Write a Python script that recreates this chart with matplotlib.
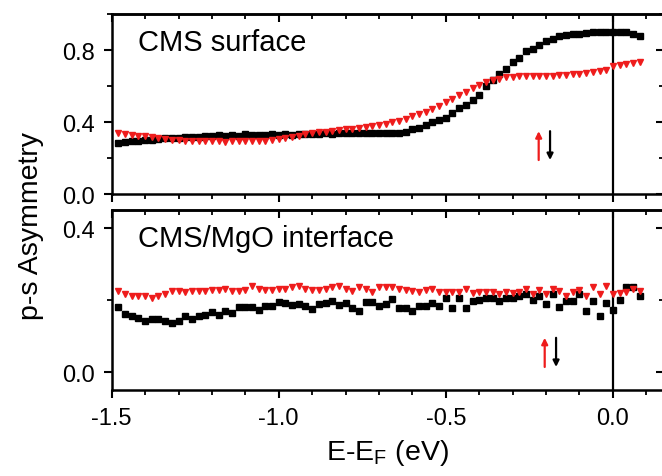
import numpy as np
import matplotlib
matplotlib.use("Agg")
import matplotlib.pyplot as plt
from matplotlib.ticker import MultipleLocator

plt.rcParams['font.family'] = ['Liberation Sans', 'DejaVu Sans']
plt.rcParams['mathtext.fontset'] = 'custom'
plt.rcParams['mathtext.rm'] = 'Liberation Sans'

# Energy grid (eV), shared by all series
energy = np.round(np.arange(-1.48, 0.0801, 0.02), 2)

# CMS surface
surf_black = [0.283, 0.289, 0.294, 0.296, 0.300, 0.303, 0.307, 0.310, 0.311, 0.312,
              0.320, 0.316, 0.320, 0.324, 0.323, 0.328, 0.326, 0.328, 0.326, 0.333,
              0.328, 0.330, 0.328, 0.333, 0.330, 0.333, 0.328, 0.333, 0.335, 0.337,
              0.335, 0.340, 0.337, 0.338, 0.338, 0.338, 0.338, 0.340, 0.340, 0.340,
              0.339, 0.339, 0.340, 0.345, 0.361, 0.367, 0.385, 0.403, 0.413, 0.422,
              0.450, 0.478, 0.496, 0.524, 0.552, 0.598, 0.635, 0.668, 0.694, 0.731,
              0.755, 0.792, 0.805, 0.829, 0.852, 0.863, 0.876, 0.883, 0.889, 0.891,
              0.894, 0.898, 0.902, 0.898, 0.898, 0.900, 0.900, 0.891, 0.876]
surf_red = [0.342, 0.333, 0.327, 0.324, 0.324, 0.320, 0.313, 0.305, 0.302, 0.302,
            0.298, 0.296, 0.296, 0.294, 0.294, 0.293, 0.292, 0.293, 0.293, 0.294,
            0.294, 0.296, 0.298, 0.302, 0.305, 0.310, 0.318, 0.325, 0.333, 0.340,
            0.345, 0.348, 0.352, 0.356, 0.360, 0.364, 0.368, 0.372, 0.378, 0.385,
            0.392, 0.400, 0.409, 0.420, 0.432, 0.444, 0.459, 0.475, 0.490, 0.512,
            0.530, 0.550, 0.565, 0.588, 0.605, 0.622, 0.633, 0.640, 0.648, 0.652,
            0.654, 0.655, 0.654, 0.656, 0.655, 0.657, 0.660, 0.662, 0.665, 0.668,
            0.672, 0.676, 0.684, 0.690, 0.712, 0.718, 0.720, 0.728, 0.732]

# CMS/MgO interface
intf_black = [0.180, 0.161, 0.156, 0.150, 0.141, 0.147, 0.147, 0.143, 0.135, 0.141,
              0.155, 0.147, 0.156, 0.158, 0.166, 0.158, 0.169, 0.163, 0.180, 0.180,
              0.180, 0.173, 0.184, 0.184, 0.194, 0.192, 0.186, 0.189, 0.184, 0.175,
              0.190, 0.192, 0.196, 0.186, 0.191, 0.178, 0.170, 0.194, 0.194, 0.183,
              0.188, 0.203, 0.177, 0.177, 0.170, 0.184, 0.184, 0.191, 0.183, 0.206,
              0.178, 0.206, 0.178, 0.198, 0.199, 0.205, 0.207, 0.198, 0.207, 0.206,
              0.212, 0.217, 0.199, 0.212, 0.189, 0.217, 0.180, 0.198, 0.198, 0.217,
              0.170, 0.198, 0.156, 0.192, 0.173, 0.201, 0.235, 0.235, 0.210]
intf_red = [0.226, 0.217, 0.212, 0.210, 0.212, 0.207, 0.212, 0.217, 0.226, 0.226,
            0.223, 0.226, 0.226, 0.226, 0.229, 0.229, 0.231, 0.226, 0.226, 0.229,
            0.238, 0.231, 0.229, 0.229, 0.232, 0.232, 0.235, 0.238, 0.231, 0.229,
            0.229, 0.232, 0.235, 0.239, 0.231, 0.226, 0.235, 0.231, 0.223, 0.235,
            0.235, 0.235, 0.231, 0.229, 0.226, 0.221, 0.229, 0.232, 0.221, 0.223,
            0.223, 0.223, 0.231, 0.219, 0.221, 0.221, 0.221, 0.217, 0.221, 0.219,
            0.223, 0.231, 0.217, 0.229, 0.217, 0.231, 0.226, 0.212, 0.221, 0.229,
            0.212, 0.235, 0.217, 0.239, 0.217, 0.219, 0.223, 0.231, 0.226]

x_ticks = [-1.5, -1.0, -0.5, 0.0]
x_ticklabels = ["-1.5", "-1.0", "-0.5", "0.0"]
panel_labels = ["CMS surface", "CMS/MgO interface"]

fig = plt.figure(figsize=(6.62, 4.77), dpi=100)
L, R = 0.1687, 1.003
ax1 = fig.add_axes([L, 0.5906, R - L, 0.9686 - 0.5906])
ax2 = fig.add_axes([L, 0.1803, R - L, 0.5583 - 0.1803])

spine_w = 1.8
for ax in (ax1, ax2):
    ax.set_xlim(-1.5, 0.153)
    for s in ax.spines.values():
        s.set_linewidth(spine_w)
    ax.axvline(0.0, color='black', lw=1.6, zorder=1)
    ax.xaxis.set_major_locator(MultipleLocator(0.5))
    ax.xaxis.set_minor_locator(MultipleLocator(0.1))
    ax.tick_params(which='major', direction='out', length=6, width=1.5, labelsize=17, pad=4)
    ax.tick_params(which='minor', direction='out', length=3.5, width=1.3)
    ax.tick_params(axis='y', pad=6)
    # top / right ticks pointing inward
    sx = ax.secondary_xaxis('top')
    sx.xaxis.set_major_locator(MultipleLocator(0.5))
    sx.xaxis.set_minor_locator(MultipleLocator(0.1))
    sx.tick_params(which='major', direction='in', length=6, width=1.5, labeltop=False)
    sx.tick_params(which='minor', direction='in', length=3.5, width=1.3)
    sx.spines['top'].set_linewidth(spine_w)
    sy = ax.secondary_yaxis('right')
    sy.tick_params(which='major', direction='in', length=6, width=1.5, labelright=False)
    sy.tick_params(which='minor', direction='in', length=3.5, width=1.3)
    ax._sy = sy

ax1.set_ylim(0.0, 1.0)
ax1.yaxis.set_major_locator(MultipleLocator(0.4))
ax1.yaxis.set_minor_locator(MultipleLocator(0.2))
ax1._sy.yaxis.set_major_locator(MultipleLocator(0.4))
ax1._sy.yaxis.set_minor_locator(MultipleLocator(0.2))
ax1.set_xticks(x_ticks)
ax1.tick_params(labelbottom=False)

ax2.set_ylim(-0.05, 0.451)
ax2.yaxis.set_major_locator(MultipleLocator(0.4))
ax2.yaxis.set_minor_locator(MultipleLocator(0.2))
ax2._sy.yaxis.set_major_locator(MultipleLocator(0.4))
ax2._sy.yaxis.set_minor_locator(MultipleLocator(0.2))
ax2.set_xticks(x_ticks)
ax2.set_xticklabels(x_ticklabels)
ax2.tick_params(axis='x', pad=6)

ms_sq, ms_tri = 4.0, 4.8
ax1.plot(energy, surf_black, ls='none', marker='s', ms=ms_sq, color='black', mec='black', zorder=3)
ax1.plot(energy, surf_red, ls='none', marker='v', ms=ms_tri, color='#ee1c1c', mec='#ee1c1c', zorder=3)
ax2.plot(energy, intf_black, ls='none', marker='s', ms=ms_sq, color='black', mec='black', zorder=3)
ax2.plot(energy, intf_red, ls='none', marker='v', ms=ms_tri, color='#ee1c1c', mec='#ee1c1c', zorder=3)

ax1.text(0.047, 0.925, panel_labels[0], transform=ax1.transAxes, fontsize=21, va='top', ha='left')
ax2.text(0.047, 0.92, panel_labels[1], transform=ax2.transAxes, fontsize=21, va='top', ha='left')

arrow_kw = dict(arrowstyle='-|>', lw=1.6, mutation_scale=9, shrinkA=0, shrinkB=0)
ax1.annotate('', xy=(-0.222, 0.35), xytext=(-0.222, 0.19), arrowprops=dict(color='#ee1c1c', **arrow_kw))
ax1.annotate('', xy=(-0.188, 0.19), xytext=(-0.188, 0.35), arrowprops=dict(color='black', **arrow_kw))
ax2.annotate('', xy=(-0.204, 0.095), xytext=(-0.204, 0.014), arrowprops=dict(color='#ee1c1c', **arrow_kw))
ax2.annotate('', xy=(-0.170, 0.014), xytext=(-0.170, 0.095), arrowprops=dict(color='black', **arrow_kw))

ax2.set_xlabel(r'E-E$_\mathregular{F}$ (eV)', fontsize=20.5, labelpad=6)
fig.text(0.047, 0.526, 'p-s Asymmetry', rotation=90, fontsize=20.5, ha='center', va='center')

fig.savefig('out.png', dpi=100)
